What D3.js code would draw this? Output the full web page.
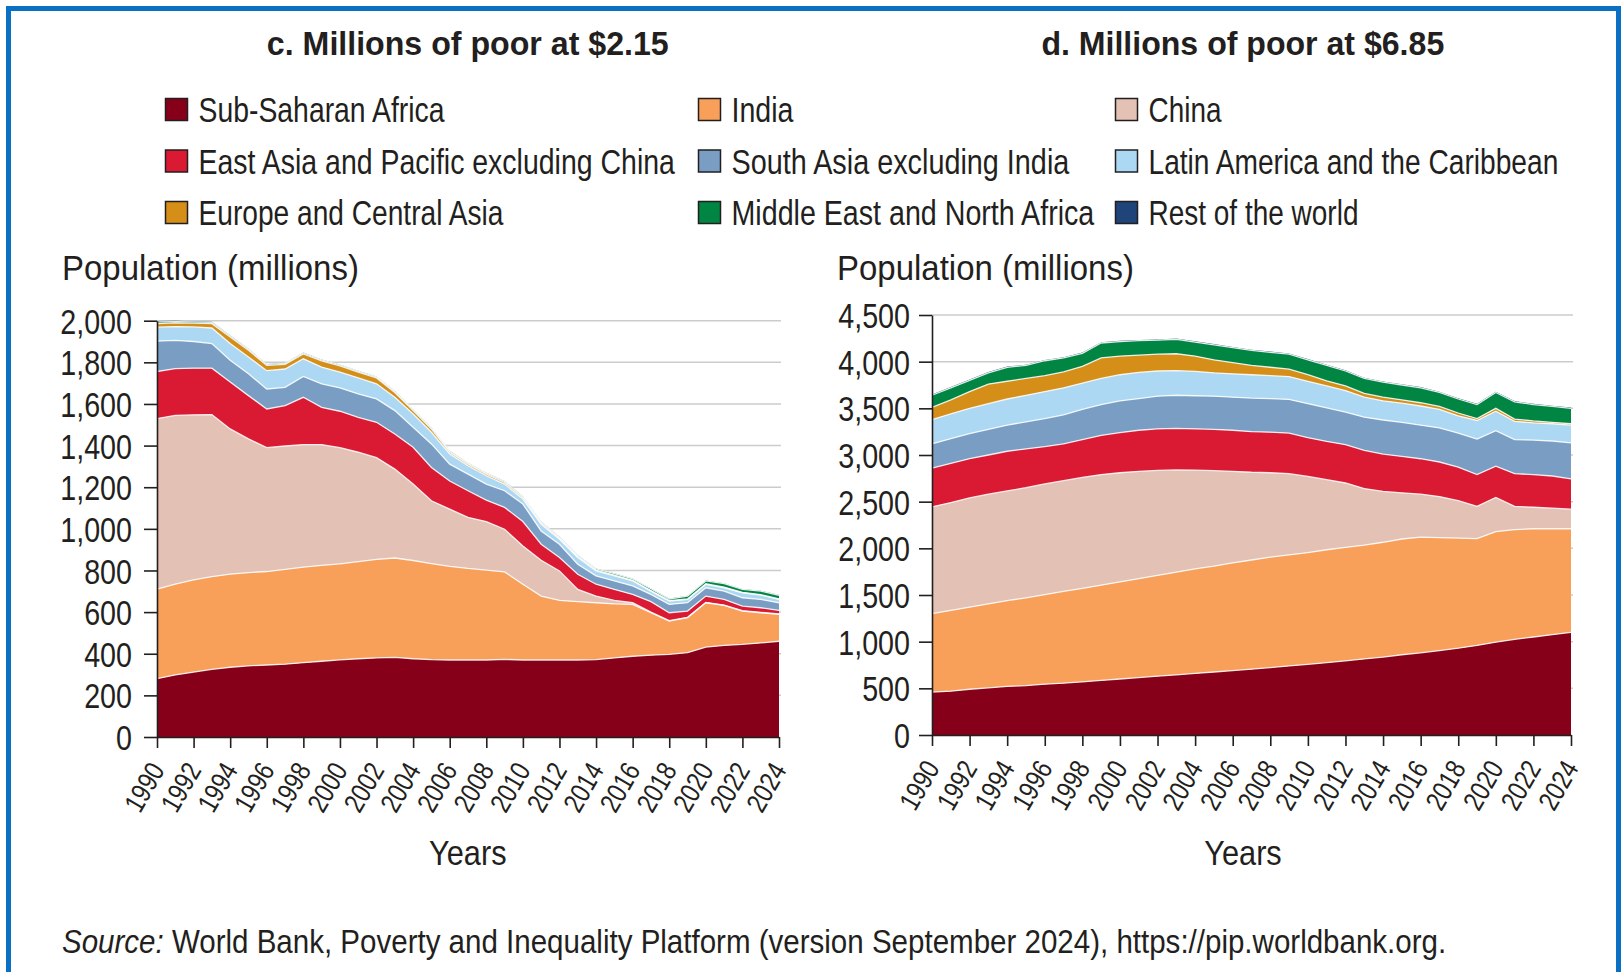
<!DOCTYPE html>
<html>
<head>
<meta charset="utf-8">
<script src="https://cdn.jsdelivr.net/npm/d3@7"></script>
<style>
  body { margin: 0; background: #fff; }
  svg text { font-family: "Liberation Sans", Arial, sans-serif; fill: #231f20; }
</style>
</head>
<body>
<script>
// ---- data (millions of people) ----
const years = [1990, 1991, 1992, 1993, 1994, 1995, 1996, 1997, 1998, 1999, 2000, 2001, 2002, 2003, 2004, 2005, 2006,
  2007, 2008, 2009, 2010, 2011, 2012, 2013, 2014, 2015, 2016, 2017, 2018, 2019, 2020, 2021, 2022, 2023, 2024];
const tickYears = [1990, 1992, 1994, 1996, 1998, 2000, 2002, 2004, 2006, 2008, 2010, 2012, 2014, 2016, 2018, 2020, 2022, 2024];

const regions = ["Sub-Saharan Africa", "India", "China", "East Asia and Pacific excluding China",
  "South Asia excluding India", "Latin America and the Caribbean", "Europe and Central Asia",
  "Middle East and North Africa", "Rest of the world"];
const regionColors = ["#86001a", "#f8a05a", "#e3c1b5", "#da1a32", "#7a9ec3", "#add8f3", "#d58e18", "#008542", "#1e4479"];

// c. poverty line $2.15
const ssa215 = [280, 298, 312, 325, 335, 342, 346, 350, 357, 364, 371, 376, 380, 383, 376, 372, 370, 370, 370, 373, 370, 370, 370, 370, 372, 380, 388, 393, 397, 405, 432, 440, 445, 452, 460];
const india215 = [430, 437, 443, 445, 447, 448, 449, 455, 459, 461, 461, 467, 473, 477, 472, 461, 450, 440, 432, 420, 364, 307, 286, 280, 273, 260, 249, 204, 160, 168, 213, 192, 160, 145, 129];
const china215 = [820, 810, 793, 779, 698, 642, 595, 593, 589, 580, 558, 525, 489, 427, 367, 302, 275, 245, 233, 205, 184, 172, 142, 59, 32, 16, 8, 3, 2, 2, 2, 2, 2, 2, 2];
const eap215 = [226, 225, 224, 223, 225, 208, 186, 194, 227, 179, 175, 168, 170, 169, 177, 160, 135, 128, 103, 105, 117, 77, 64, 73, 57, 53, 40, 50, 38, 30, 30, 27, 22, 22, 17];
const sa215 = [146, 135, 128, 118, 105, 105, 96, 88, 100, 113, 112, 112, 112, 112, 96, 113, 81, 80, 77, 80, 84, 64, 64, 48, 40, 41, 41, 35, 40, 40, 40, 40, 40, 40, 37];
const lac215 = [67, 67, 70, 75, 80, 81, 88, 88, 85, 80, 76, 77, 73, 64, 64, 56, 49, 40, 40, 32, 24, 32, 24, 32, 24, 24, 24, 16, 16, 16, 16, 16, 24, 21, 16];
const eca215 = [17, 18, 18, 21, 32, 32, 25, 22, 23, 30, 30, 28, 28, 23, 16, 16, 8, 8, 8, 8, 7, 6, 5, 4, 4, 4, 3, 2, 2, 2, 3, 3, 2, 2, 2];
const mena215 = [8, 6, 6, 6, 6, 5, 5, 5, 5, 5, 5, 5, 5, 5, 5, 5, 5, 5, 5, 5, 5, 5, 5, 5, 6, 7, 7, 9, 8, 14, 14, 17, 14, 17, 18];
const row215 = [4, 4, 3, 3, 2, 2, 2, 2, 2, 2, 2, 2, 2, 2, 2, 2, 2, 2, 2, 2, 2, 2, 2, 2, 2, 2, 2, 2, 2, 2, 2, 2, 2, 2, 2];

// d. poverty line $6.85
const ssa685 = [460, 470, 490, 505, 520, 530, 545, 555, 570, 585, 600, 615, 630, 645, 660, 675, 690, 705, 722, 740, 757, 775, 795, 815, 835, 860, 880, 905, 930, 960, 995, 1025, 1050, 1075, 1100];
const india685 = [840, 865, 880, 900, 920, 940, 960, 985, 1000, 1020, 1040, 1060, 1080, 1100, 1120, 1135, 1155, 1170, 1183, 1190, 1198, 1210, 1215, 1220, 1230, 1240, 1240, 1210, 1180, 1145, 1185, 1175, 1160, 1135, 1110];
const china685 = [1145, 1155, 1170, 1175, 1175, 1180, 1185, 1185, 1190, 1185, 1170, 1150, 1125, 1095, 1058, 1022, 980, 940, 905, 870, 815, 750, 690, 605, 545, 495, 460, 440, 400, 345, 365, 250, 230, 220, 210];
const eap685 = [415, 420, 420, 420, 425, 415, 400, 395, 405, 420, 430, 440, 445, 445, 442, 443, 440, 435, 435, 435, 415, 410, 410, 410, 400, 390, 380, 370, 360, 340, 335, 350, 350, 345, 325];
const sa685 = [260, 265, 270, 275, 280, 290, 300, 310, 325, 330, 340, 340, 350, 355, 355, 355, 355, 360, 360, 360, 365, 360, 350, 355, 365, 365, 360, 365, 365, 380, 380, 365, 370, 375, 385];
const lac685 = [260, 265, 270, 275, 280, 285, 290, 290, 280, 280, 280, 280, 270, 265, 260, 250, 250, 250, 245, 245, 240, 235, 230, 215, 205, 205, 205, 200, 185, 200, 210, 195, 185, 185, 190];
const eca685 = [130, 150, 180, 210, 190, 180, 170, 170, 180, 220, 200, 185, 180, 180, 165, 140, 120, 100, 90, 80, 70, 55, 50, 40, 40, 35, 35, 30, 30, 20, 30, 25, 20, 15, 15];
const mena685 = [130, 130, 120, 120, 150, 140, 160, 150, 140, 160, 155, 155, 150, 155, 150, 160, 160, 160, 160, 160, 160, 165, 160, 160, 160, 160, 160, 150, 150, 150, 170, 185, 175, 170, 165];
const row685 = [8, 8, 8, 8, 8, 8, 8, 8, 8, 8, 8, 8, 8, 8, 8, 8, 8, 8, 8, 8, 8, 8, 8, 8, 8, 8, 8, 8, 8, 8, 8, 8, 8, 8, 8];

const yTicks215 = [0, 200, 400, 600, 800, 1000, 1200, 1400, 1600, 1800, 2000];
const yTicks685 = [0, 500, 1000, 1500, 2000, 2500, 3000, 3500, 4000, 4500];

// ---- page ----
const width = 1621;
const height = 972;
const narrow = 0.82; // squeeze Liberation Sans to look like a condensed face

const svg = d3.select("body").append("svg")
  .attr("width", width)
  .attr("height", height);

svg.append("rect").attr("width", width).attr("height", height).attr("fill", "#fff");

// blue frame
svg.append("rect")
  .attr("x", 8.5).attr("y", 8.5)
  .attr("width", 1610).attr("height", 1000)
  .attr("fill", "none")
  .attr("stroke", "#0a70c4")
  .attr("stroke-width", 5);

// text squeezed horizontally so it spans the given width
function fitText(x, y, str, size, targetWidth, opts = {}) {
  const g = svg.append("g");
  const t = g.append("text")
    .attr("x", 0).attr("y", 0)
    .attr("font-size", size)
    .attr("font-weight", opts.bold ? "bold" : null)
    .attr("text-anchor", opts.anchor || "start");
  if (opts.parts) {
    opts.parts.forEach((p) => t.append("tspan").attr("font-style", p.italic ? "italic" : null).text(p.text));
  } else {
    t.text(str);
  }
  const k = targetWidth / t.node().getComputedTextLength();
  g.attr("transform", `translate(${x},${y}) scale(${k},1)`);
  return t;
}

// titles
fitText(467.8, 55, "c. Millions of poor at $2.15", 34, 402, { bold: true, anchor: "middle" });
fitText(1242.8, 55, "d. Millions of poor at $6.85", 34, 403, { bold: true, anchor: "middle" });

// legend (3 columns, row-major)
const legendCols = [165.5, 698.5, 1115.5];
const legendRows = [122, 173.5, 225];
const legendLens = [246, 62, 73, 476.5, 338, 410, 305, 363, 210];

regions.forEach((r, i) => {
  const lx = legendCols[i % 3];
  const ly = legendRows[Math.floor(i / 3)];
  svg.append("rect")
    .attr("x", lx).attr("y", ly - 23.5)
    .attr("width", 22).attr("height", 22)
    .attr("fill", regionColors[i])
    .attr("stroke", "#231f20")
    .attr("stroke-width", 1.5);
  fitText(lx + 33, ly, r, 34.5, legendLens[i]);
});

// ---- one panel ----
function drawPanel(p) {
  const x = d3.scaleLinear().domain([1990, 2024]).range([p.x0, p.x1]);
  const y = d3.scaleLinear().domain([0, p.yMax]).range([p.y0, p.yTop]);

  const table = years.map((yr, i) => {
    const row = { year: yr };
    regions.forEach((r, k) => (row[r] = p.series[k][i]));
    return row;
  });
  const stacked = d3.stack().keys(regions)(table);

  const g = svg.append("g");

  // gridlines
  g.selectAll("line.grid")
    .data(p.ticks.filter((d) => d > 0))
    .join("line")
    .attr("class", "grid")
    .attr("x1", p.x0).attr("x2", p.x1 + 2)
    .attr("y1", (d) => y(d)).attr("y2", (d) => y(d))
    .attr("stroke", "#cccccc")
    .attr("stroke-width", 1.5);

  const area = d3.area()
    .x((d) => x(d.data.year))
    .y0((d) => y(d[0]))
    .y1((d) => y(d[1]));

  g.selectAll("path.layer")
    .data(stacked)
    .join("path")
    .attr("class", "layer")
    .attr("fill", (d, i) => regionColors[i])
    .attr("d", area);

  // thin white edges between layers
  const topLine = d3.line()
    .x((d) => x(d.data.year))
    .y((d) => y(d[1]));

  g.selectAll("path.edge")
    .data(stacked.slice(0, 8))
    .join("path")
    .attr("class", "edge")
    .attr("fill", "none")
    .attr("stroke", "#ffffff")
    .attr("stroke-opacity", 0.85)
    .attr("stroke-width", 1.3)
    .attr("d", topLine);

  // y axis
  const yAxis = g.append("g")
    .attr("transform", `translate(${p.x0},0)`)
    .call(d3.axisLeft(y).tickValues(p.ticks).tickSize(13).tickSizeOuter(0).tickFormat(d3.format(",")));
  yAxis.select(".domain").attr("stroke", "#231f20").attr("stroke-width", 1.6);
  yAxis.selectAll(".tick line").attr("stroke", "#231f20").attr("stroke-width", 1.6);
  yAxis.selectAll(".tick text")
    .attr("x", -p.labelGap / narrow)
    .attr("dy", "0.36em")
    .attr("font-size", 35)
    .attr("font-family", null)
    .attr("fill", "#231f20")
    .attr("transform", `scale(${narrow},1)`);

  // x axis, labels turned steeply
  const xAxis = g.append("g")
    .attr("transform", `translate(0,${p.y0})`)
    .call(d3.axisBottom(x).tickValues(tickYears).tickSize(11).tickSizeOuter(0).tickFormat((d) => d));
  xAxis.select(".domain").attr("stroke", "#231f20").attr("stroke-width", 1.6);
  xAxis.selectAll(".tick line").attr("stroke", "#231f20").attr("stroke-width", 1.6);
  xAxis.selectAll(".tick text")
    .attr("font-size", 28)
    .attr("font-family", null)
    .attr("fill", "#231f20")
    .attr("text-anchor", "end")
    .attr("y", 0).attr("dy", 0)
    .attr("transform", `translate(8,33) rotate(-60) scale(${narrow},1)`);

  // axis titles
  fitText(p.x0 - 95, 280, "Population (millions)", 35, 297);
  fitText(p.yearsX, 865, "Years", 35, 77.5, { anchor: "middle" });
}

drawPanel({
  x0: 157, x1: 779, y0: 737, yTop: 320.7, yMax: 2000,
  ticks: yTicks215, labelGap: 25, yearsX: 467.8,
  series: [ssa215, india215, china215, eap215, sa215, lac215, eca215, mena215, row215]
});

drawPanel({
  x0: 932, x1: 1571, y0: 735, yTop: 315, yMax: 4500,
  ticks: yTicks685, labelGap: 22, yearsX: 1243,
  series: [ssa685, india685, china685, eap685, sa685, lac685, eca685, mena685, row685]
});

// source note
fitText(62, 953, null, 33, 1385, {
  parts: [
    { text: "Source:", italic: true },
    { text: " World Bank, Poverty and Inequality Platform (version September 2024), https://pip.worldbank.org." }
  ]
});
</script>
</body>
</html>
